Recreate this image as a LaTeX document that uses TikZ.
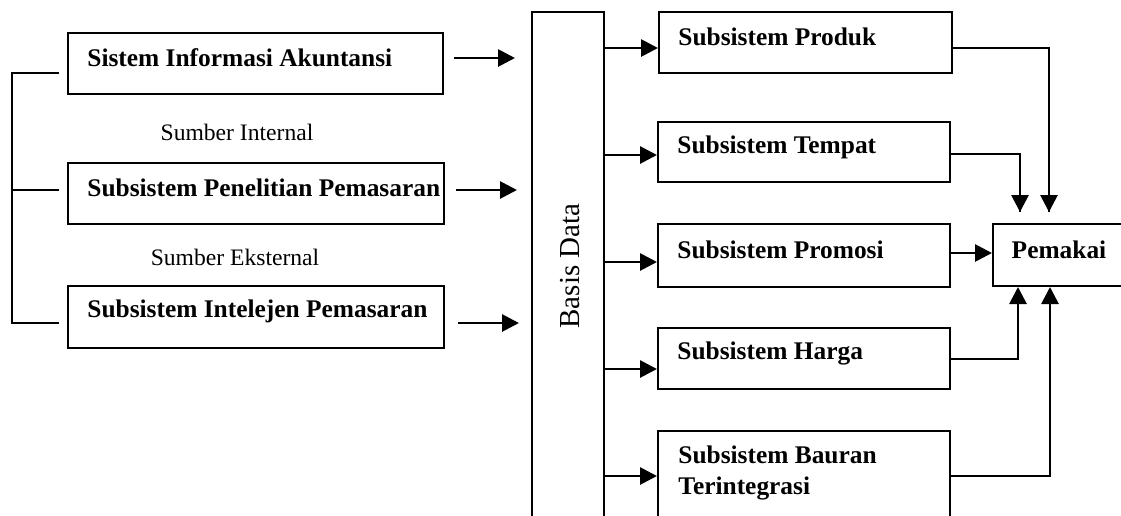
\documentclass[tikz,border=0pt]{standalone}
\usepackage{fontspec}
\setmainfont{Liberation Serif}
\usetikzlibrary{arrows.meta}
\begin{document}
\begin{tikzpicture}[x=0.5pt,y=-0.5pt,
  box/.style={draw, line width=1pt, inner sep=0pt, rectangle},
  lbl/.style={font=\fontsize{12.7}{15.5}\selectfont\bfseries, anchor=west, inner sep=0pt, align=left},
  plain/.style={font=\fontsize{11.8}{14}\selectfont, inner sep=0pt},
  arr/.style={line width=1.4pt, -{Triangle[length=8.5pt,width=8.5pt]}},
  ln/.style={line width=1pt},
  thin/.style={line width=0.8pt}]
\useasboundingbox (0,0) rectangle (1121,515);
% left boxes
\node[box, minimum width=187.5pt, minimum height=30.5pt] (L1) at (255.5,63.5) {};
\node[box, minimum width=188pt, minimum height=30.5pt] (L2) at (256,193.5) {};
\node[box, minimum width=188pt, minimum height=31pt] (L3) at (256,317) {};
\node[lbl] (tL1) at ([xshift=10pt,yshift=2.7pt]L1.west) {Sistem Informasi Akuntansi};
\node[lbl] (tL2) at ([xshift=10pt,yshift=2.7pt]L2.west) {Subsistem Penelitian Pemasaran};
\node[lbl] (tL3) at ([xshift=10pt,yshift=2.7pt]L3.west) {Subsistem Intelejen Pemasaran};
\node[plain] (si) at (237,132) {Sumber Internal};
\node[plain] (se) at (235,257) {Sumber Eksternal};
% bracket
\coordinate (bx) at (12,0);
\coordinate (s1) at ([xshift=-4pt,yshift=-4.75pt]L1.west);
\coordinate (s2) at ([xshift=-4pt,yshift=1.75pt]L2.west);
\coordinate (s3) at ([xshift=-4pt,yshift=-3pt]L3.west);
\draw[thin] (s1) -- (s1 -| bx) -- (s3 -| bx) -- (s3);
\draw[thin] (s2) -- (s2 -| bx);
% basis data
\node[box, minimum width=36pt, minimum height=262pt] (B) at (568,274) {};
\node[font=\fontsize{14.5}{17}\selectfont, rotate=90, inner sep=0pt] (bd) at (570,266) {Basis Data};
% left arrows
\draw[arr] ([xshift=5pt,yshift=2.75pt]L1.east) -- ++(61,0);
\draw[arr] ([xshift=5.5pt,yshift=1.75pt]L2.east) -- ++(61,0);
\draw[arr] ([xshift=6.5pt,yshift=-3pt]L3.east) -- ++(61,0);
% right boxes
\node[box, minimum width=146.5pt, minimum height=30.5pt] (P1) at (805.5,42.5) {};
\node[box, minimum width=146pt, minimum height=30pt] (P2) at (804,152) {};
\node[box, minimum width=146pt, minimum height=31.5pt] (P3) at (804,255.5) {};
\node[box, minimum width=146pt, minimum height=30.5pt] (P4) at (804,358.5) {};
\node[box, minimum width=146pt, minimum height=54.5pt] (P5) at (804,485.5) {};
\node[lbl] (tP1) at ([xshift=10pt,yshift=2.75pt]P1.west) {Subsistem Produk};
\node[lbl] (tP2) at ([xshift=10pt,yshift=2.5pt]P2.west) {Subsistem Tempat};
\node[lbl] (tP3) at ([xshift=10pt,yshift=2.75pt]P3.west) {Subsistem Promosi};
\node[lbl] (tP4) at ([xshift=10pt,yshift=2.75pt]P4.west) {Subsistem Harga};
\node[lbl] (tP5) at (678,472.5) {Subsistem Bauran\\Terintegrasi};
% pemakai
\node[box, minimum width=67pt, minimum height=31pt] (M) at (1060,255) {};
\node[lbl, anchor=center] (tM) at (1059,250) {Pemakai};
% basis -> subsystems
\coordinate (r1) at ([yshift=-2.75pt]P1.west);
\coordinate (r2) at ([yshift=-1.5pt]P2.west);
\coordinate (r3) at ([yshift=-3.25pt]P3.west);
\coordinate (r4) at ([yshift=-5.25pt]P4.west);
\coordinate (r5) at ([yshift=4.75pt]P5.west);
\foreach \r in {r1,r2,r3,r4,r5} \draw[arr] (B.east |- \r) -- (\r);
% subsystems -> pemakai
\draw[ln] ([yshift=-2.75pt]P1.east) -| ([xshift=-5.5pt,yshift=5.5pt]M.north) coordinate (k1);
\draw[arr] ([xshift=-5.5pt,yshift=25pt]M.north) -- (k1);
\draw[ln] ([yshift=-1pt]P2.east) -| ([xshift=-20pt,yshift=5.5pt]M.north) coordinate (k2);
\draw[arr] ([xshift=-20pt,yshift=25pt]M.north) -- (k2);
\coordinate (pm) at ([yshift=1pt]M.west);
\draw[arr] (P3.east |- pm) -- (pm);
\draw[ln] (P4.east) -| ([xshift=-21pt,yshift=-25pt]M.south) coordinate (k4);
\draw[arr] (k4) -- ([xshift=-21pt]M.south);
\draw[ln] ([yshift=4.75pt]P5.east) -| ([xshift=-5pt,yshift=-25pt]M.south) coordinate (k5);
\draw[arr] (k5) -- ([xshift=-5pt]M.south);
\end{tikzpicture}
\end{document}
